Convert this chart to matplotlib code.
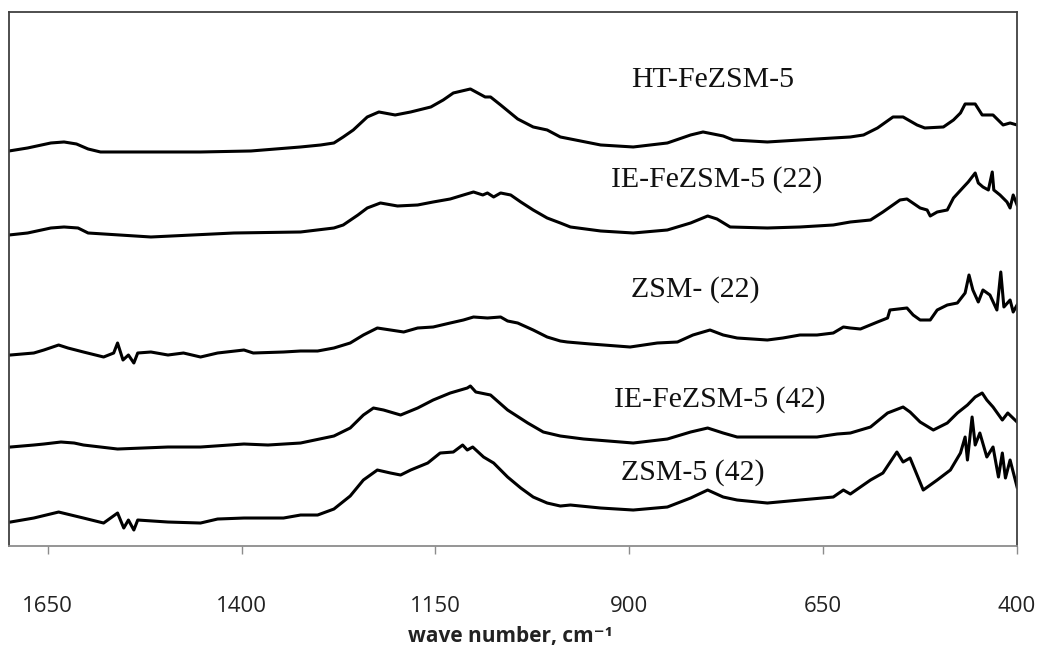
"""
Stacked FT-IR spectra of the ZSM-5 / Fe-ZSM-5 samples (offset, arbitrary units).
"""

import matplotlib
matplotlib.use("Agg")
import matplotlib.pyplot as plt

# spectra: wavenumber (cm-1) and stacked intensity (a.u.)
ht_w = [1700, 1676, 1646, 1629, 1613, 1604, 1598, 1582, 1517, 1453, 1388, 1324,
        1298, 1281, 1269, 1256, 1238, 1223, 1202, 1182, 1156, 1140, 1127, 1105,
        1086, 1079, 1066, 1044, 1024, 1006, 989, 937, 895, 851, 821, 805, 779,
        766, 722, 680, 637, 615, 598, 580, 560, 547, 529, 519, 495, 482, 473,
        467, 454, 445, 431, 418, 409, 400]
ht_y = [3.95, 3.98, 4.03, 4.04, 4.02, 3.99, 3.97, 3.94, 3.94, 3.94, 3.95, 3.99,
        4.01, 4.03, 4.09, 4.16, 4.29, 4.34, 4.31, 4.34, 4.39, 4.46, 4.53, 4.57,
        4.49, 4.49, 4.41, 4.27, 4.19, 4.16, 4.09, 4.01, 3.99, 4.03, 4.11, 4.14,
        4.10, 4.06, 4.04, 4.06, 4.08, 4.09, 4.11, 4.18, 4.29, 4.29, 4.21, 4.18,
        4.19, 4.26, 4.33, 4.42, 4.42, 4.31, 4.31, 4.21, 4.23, 4.21]

ie22_w = [1700, 1676, 1646, 1629, 1611, 1598, 1517, 1410, 1324, 1281, 1269,
          1250, 1238, 1221, 1199, 1173, 1153, 1131, 1114, 1101, 1089, 1083,
          1075, 1066, 1053, 1040, 1024, 1006, 989, 976, 937, 895, 851, 821,
          799, 787, 770, 722, 680, 637, 615, 589, 573, 551, 542, 525, 516, 512,
          503, 490, 482, 469, 463, 454, 450, 444, 437, 432, 430, 422, 413, 409,
          405, 400]
ie22_y = [3.11, 3.13, 3.18, 3.19, 3.18, 3.13, 3.09, 3.13, 3.14, 3.18, 3.21,
          3.31, 3.38, 3.43, 3.40, 3.41, 3.44, 3.47, 3.51, 3.54, 3.51, 3.53,
          3.49, 3.53, 3.51, 3.44, 3.36, 3.28, 3.23, 3.19, 3.15, 3.13, 3.16,
          3.23, 3.30, 3.27, 3.19, 3.18, 3.19, 3.21, 3.24, 3.26, 3.34, 3.46,
          3.47, 3.38, 3.36, 3.30, 3.34, 3.36, 3.48, 3.59, 3.64, 3.73, 3.63,
          3.59, 3.56, 3.74, 3.56, 3.51, 3.44, 3.38, 3.51, 3.41]

zsm22_w = [1698, 1668, 1655, 1636, 1624, 1604, 1578, 1565, 1560, 1553, 1546,
           1539, 1534, 1517, 1495, 1475, 1453, 1431, 1397, 1385, 1346, 1324,
           1302, 1281, 1260, 1243, 1225, 1208, 1191, 1173, 1153, 1131, 1114,
           1101, 1083, 1066, 1057, 1044, 1024, 1006, 989, 980, 950, 899, 864,
           838, 818, 796, 779, 761, 722, 702, 680, 658, 637, 624, 615, 602,
           580, 567, 564, 542, 534, 525, 512, 503, 490, 477, 467, 462, 457,
           450, 444, 435, 426, 421, 417, 409, 405, 400]
zsm22_y = [1.91, 1.93, 1.96, 2.01, 1.98, 1.94, 1.89, 1.93, 2.03, 1.86, 1.91,
           1.83, 1.93, 1.94, 1.91, 1.93, 1.89, 1.93, 1.96, 1.93, 1.94, 1.95,
           1.95, 1.98, 2.03, 2.11, 2.18, 2.16, 2.14, 2.18, 2.19, 2.23, 2.26,
           2.29, 2.28, 2.29, 2.25, 2.23, 2.16, 2.09, 2.05, 2.04, 2.02, 1.99,
           2.03, 2.04, 2.11, 2.16, 2.11, 2.08, 2.06, 2.08, 2.11, 2.11, 2.13,
           2.19, 2.18, 2.17, 2.24, 2.28, 2.36, 2.38, 2.31, 2.26, 2.26, 2.36,
           2.41, 2.43, 2.53, 2.71, 2.56, 2.44, 2.56, 2.51, 2.36, 2.74, 2.39,
           2.46, 2.34, 2.41]

ie42_w = [1698, 1668, 1655, 1633, 1616, 1604, 1560, 1495, 1453, 1397, 1366,
          1324, 1281, 1260, 1243, 1230, 1217, 1195, 1173, 1153, 1131, 1109,
          1105, 1098, 1079, 1057, 1031, 1011, 989, 959, 895, 851, 821, 799,
          779, 761, 702, 658, 632, 615, 589, 567, 547, 538, 525, 508, 490, 477,
          464, 454, 445, 439, 431, 419, 412, 400]
ie42_y = [0.99, 1.01, 1.02, 1.04, 1.03, 1.01, 0.97, 0.99, 0.99, 1.02, 1.01,
          1.03, 1.10, 1.18, 1.31, 1.38, 1.36, 1.31, 1.38, 1.46, 1.53, 1.58,
          1.60, 1.54, 1.51, 1.36, 1.23, 1.14, 1.10, 1.07, 1.03, 1.07, 1.14,
          1.18, 1.13, 1.09, 1.09, 1.09, 1.12, 1.13, 1.19, 1.33, 1.39, 1.34,
          1.24, 1.16, 1.23, 1.33, 1.41, 1.49, 1.53, 1.46, 1.39, 1.26, 1.33,
          1.24]

zsm42_w = [1698, 1668, 1636, 1604, 1578, 1560, 1552, 1546, 1539, 1534, 1495,
           1453, 1431, 1397, 1346, 1324, 1302, 1281, 1260, 1243, 1225, 1208,
           1195, 1182, 1160, 1144, 1127, 1115, 1109, 1102, 1088, 1075, 1057,
           1040, 1024, 1006, 989, 976, 937, 895, 851, 821, 799, 779, 761, 722,
           680, 637, 624, 615, 589, 573, 555, 547, 538, 521, 503, 486, 473,
           467, 464, 458, 454, 448, 439, 431, 424, 419, 415, 409, 400]
zsm42_y = [0.24, 0.28, 0.34, 0.28, 0.23, 0.33, 0.18, 0.26, 0.16, 0.26, 0.24,
           0.23, 0.27, 0.28, 0.28, 0.31, 0.31, 0.37, 0.50, 0.66, 0.76, 0.73,
           0.71, 0.76, 0.83, 0.93, 0.94, 1.01, 0.96, 0.99, 0.89, 0.83, 0.69,
           0.58, 0.49, 0.43, 0.40, 0.41, 0.38, 0.36, 0.39, 0.48, 0.56, 0.49,
           0.46, 0.43, 0.46, 0.49, 0.56, 0.52, 0.66, 0.73, 0.94, 0.84, 0.88,
           0.56, 0.66, 0.76, 0.93, 1.09, 0.86, 1.29, 1.01, 1.13, 0.89, 0.99,
           0.69, 0.93, 0.68, 0.86, 0.59]

labels = ["HT-FeZSM-5", "IE-FeZSM-5 (22)", "ZSM- (22)", "IE-FeZSM-5 (42)",
          "ZSM-5 (42)"]
# label anchors in axes fraction (centre, baseline)
label_x = [0.698, 0.702, 0.681, 0.705, 0.678]
label_y = [0.860, 0.672, 0.466, 0.260, 0.124]

xticks = [1650, 1400, 1150, 900, 650, 400]


fig = plt.figure(figsize=(10.37, 6.54), dpi=100)
ax = fig.add_axes([0.00868, 0.1651, 0.9721, 0.8166])

for w, y in [(ht_w, ht_y), (ie22_w, ie22_y), (zsm22_w, zsm22_y),
             (ie42_w, ie42_y), (zsm42_w, zsm42_y)]:
	ax.plot(w, y, color="black", lw=2.2, solid_joinstyle="round")

for txt, lx, ly in zip(labels, label_x, label_y):
	ax.text(lx, ly, txt, transform=ax.transAxes, ha="center", va="baseline",
	        fontsize=21.5, family="Liberation Serif", color="#111111")

ax.set_xlim(1700, 400)
ax.set_ylim(0, 5.34)
ax.set_yticks([])
ax.set_xticks(xticks)
ax.set_xticklabels([str(t) for t in xticks], family="Open Sans", fontsize=16,
                   color="#222222")
ax.tick_params(axis="x", direction="out", length=6, width=1, color="#8c8c8c",
               pad=30)

for s in ["left", "top", "right"]:
	ax.spines[s].set_color("#404040")
	ax.spines[s].set_linewidth(1.3)
ax.spines["bottom"].set_color("#8c8c8c")
ax.spines["bottom"].set_linewidth(1.3)

fig.text(0.492, 0.026, "wave number, cm\u207b\u00b9", ha="center", va="center",
         fontsize=15, fontweight="bold", family=["Open Sans", "DejaVu Sans"],
         color="#222222")

fig.savefig("out.png", dpi=100)
